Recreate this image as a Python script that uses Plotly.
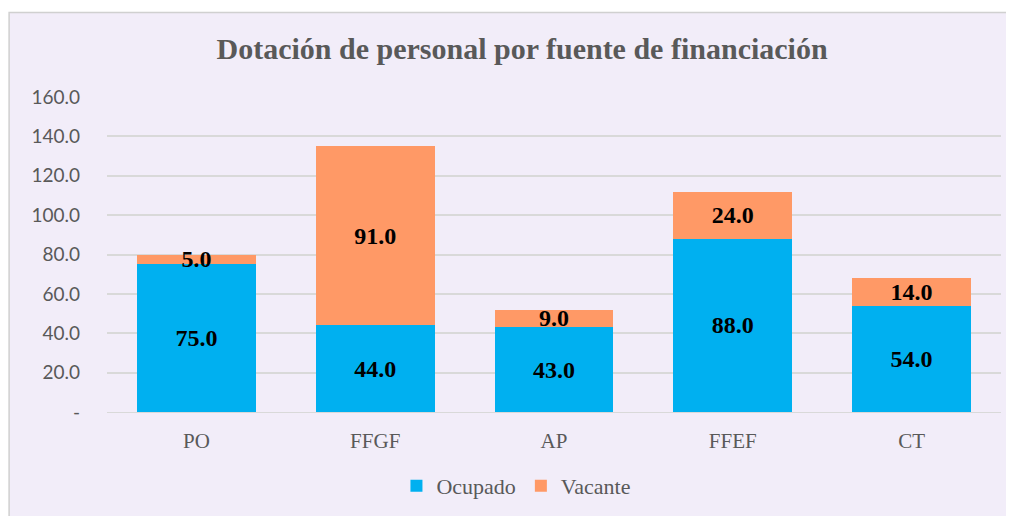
import plotly.graph_objects as go

categories = ["PO", "FFGF", "AP", "FFEF", "CT"]
ocupado = [75.0, 44.0, 43.0, 88.0, 54.0]
vacante = [5.0, 91.0, 9.0, 24.0, 14.0]
y_ticks = [0, 20, 40, 60, 80, 100, 120, 140, 160]
y_tick_labels = ["-", "20.0", "40.0", "60.0", "80.0", "100.0", "120.0", "140.0", "160.0"]

serif = "Liberation Serif, Times New Roman, serif"
label_font = {"family": serif, "size": 24, "color": "black"}

fig = go.Figure()
for name, values, color in [
    ("Ocupado", ocupado, "#00B0F0"),
    ("Vacante", vacante, "#FF9966"),
]:
    fig.add_bar(
        x=categories,
        y=values,
        name=name,
        marker={"color": color, "line": {"width": 0}},
        text=[f"<b>{v:.1f}</b>" for v in values],
        textposition="inside",
        insidetextanchor="middle",
        constraintext="none",
        textangle=0,
        textfont=label_font,
        cliponaxis=False,
    )

# chart frame (Excel-style area)
fig.add_shape(
    type="rect",
    xref="paper",
    yref="paper",
    x0=-0.1095,
    x1=1.05,
    y0=-0.4,
    y1=1.268,
    fillcolor="#F2EDF9",
    line={"color": "#D0D0D0", "width": 1.5},
    layer="below",
)

# page body adds an 8px offset, so the figure is 8px smaller than the window
fig.update_layout(
    barmode="stack",
    bargap=0.335,
    width=1006,
    height=508,
    margin={"l": 99, "r": 13, "t": 89, "b": 104, "autoexpand": False},
    paper_bgcolor="white",
    plot_bgcolor="rgba(0,0,0,0)",
    title={
        "text": "<b>Dotación de personal por fuente de financiación</b>",
        "x": 0.511,
        "xanchor": "center",
        "y": 1 - 40 / 508,
        "yanchor": "middle",
        "font": {"family": serif, "size": 30, "color": "#595959"},
    },
    legend={
        "orientation": "h",
        "traceorder": "normal",
        "x": 0.458,
        "xanchor": "center",
        "y": -0.235,
        "yanchor": "middle",
        "font": {"family": serif, "size": 22, "color": "#595959"},
        "bgcolor": "rgba(0,0,0,0)",
    },
    showlegend=True,
)
fig.update_xaxes(
    tickfont={"family": serif, "size": 21, "color": "#595959"},
    showline=True,
    linecolor="#D9D9D9",
    linewidth=1,
    ticks="",
    ticklabelstandoff=10,
)
fig.update_yaxes(
    range=[0, 160],
    tickvals=y_ticks,
    ticktext=y_tick_labels,
    tickfont={"family": "Lato, sans-serif", "size": 19, "color": "#595959"},
    gridcolor="#D9D9D9",
    gridwidth=1.5,
    zeroline=False,
    ticks="",
    ticklabelstandoff=26,
)

fig.write_html("out.html")
